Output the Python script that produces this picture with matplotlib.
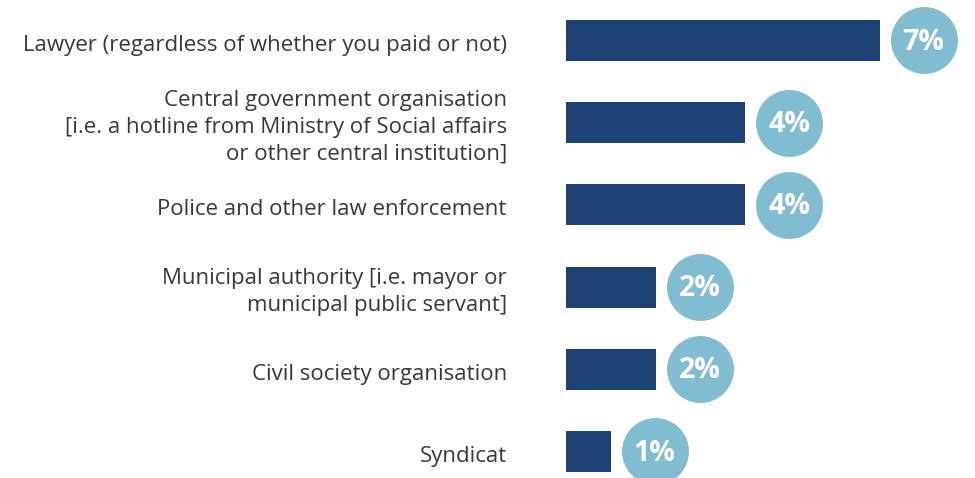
import matplotlib.pyplot as plt

# data
labels = [
    "Lawyer (regardless of whether you paid or not)",
    "Central government organisation\n[i.e. a hotline from Ministry of Social affairs\nor other central institution]",
    "Police and other law enforcement",
    "Municipal authority [i.e. mayor or\nmunicipal public servant]",
    "Civil society organisation",
    "Syndicat",
]
values = [7, 4, 4, 2, 2, 1]

bar_color = "#1c4373"
dot_color = "#82bcd0"
text_color = "#383838"

fig = plt.figure(figsize=(9.75, 4.78), dpi=100)
ax = fig.add_axes([0, 0, 1, 1])

ypos = list(range(len(values)))
ax.barh(ypos, values, height=0.5, color=bar_color)
ax.scatter([v + 0.98 for v in values], ypos, s=2325, color=dot_color,
           zorder=3, linewidths=0)

for y, v, lab in zip(ypos, values, labels):
    ax.text(v + 0.98, y + 0.02, f"{v}%", color="white", fontsize=20.5,
            fontweight="bold", ha="center", va="center", zorder=4,
            family="Open Sans")
    ax.text(-1.32, y + 0.06, lab, color=text_color, fontsize=16, ha="right",
            va="center", family="Open Sans", linespacing=1.36)

ax.set_xlim(-566 / 44.8, (975 - 566) / 44.8)
ax.set_ylim((478 - 40.5) / 82.2, -40.5 / 82.2)
ax.axis("off")

plt.savefig("out.png", dpi=100)
